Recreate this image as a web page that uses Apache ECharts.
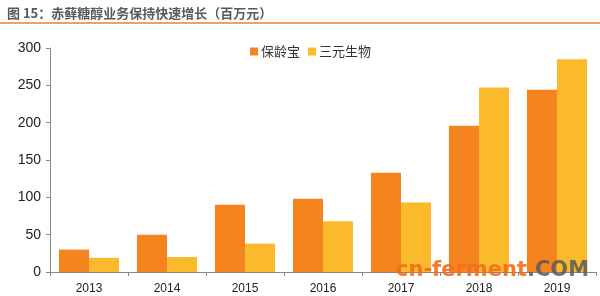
<!DOCTYPE html>
<html>
<head>
<meta charset="utf-8">
<script src="https://cdn.jsdelivr.net/npm/echarts@6/dist/echarts.min.js"></script>
<style>
html, body { margin: 0; padding: 0; background: #fff; }
#chart { width: 600px; height: 296px; }
</style>
</head>
<body>
<div id="chart"></div>
<script>
var years = ['2013', '2014', '2015', '2016', '2017', '2018', '2019'];
var baolingbao = [30, 50, 90, 98, 133, 196, 244];
var sanyuan = [19, 20, 38, 68, 93, 247, 285];
var yTicks = [0, 50, 100, 150, 200, 250, 300];

var chart = echarts.init(document.getElementById('chart'));
chart.setOption({
    animation: false,
    color: ['#F5841F', '#FBBA2C'],
    title: {
        text: '图 15：赤藓糖醇业务保持快速增长（百万元）',
        left: 2,
        top: 2,
        textStyle: {
            fontSize: 13,
            fontWeight: 'bold',
            color: '#5a5a5a',
            fontFamily: 'Noto Sans CJK SC'
        }
    },
    graphic: [
        {
            type: 'rect',
            shape: { x: 0, y: 22, width: 600, height: 2 },
            style: { fill: '#F0A060' }
        },
        {
            type: 'text',
            x: 396,
            y: 260,
            z: 100,
            style: {
                text: '{a|cn-ferment}{b|.COM}',
                rich: {
                    a: { fontSize: 21, fontWeight: 'bold', fill: 'rgba(240,110,30,0.9)', fontFamily: 'DejaVu Sans' },
                    b: { fontSize: 21, fontWeight: 'bold', fill: 'rgba(90,90,90,0.85)', fontFamily: 'DejaVu Sans' }
                }
            }
        }
    ],
    legend: {
        left: 245,
        top: 40,
        itemWidth: 8,
        itemHeight: 8,
        itemGap: 8,
        icon: 'rect',
        textStyle: { fontSize: 13, color: '#333', fontFamily: 'Noto Sans CJK SC', padding: [0, 0, 0, -2] },
        data: ['保龄宝', '三元生物']
    },
    grid: {
        left: 50,
        right: 4,
        top: 48,
        bottom: 24
    },
    xAxis: {
        type: 'category',
        data: years,
        axisLine: { lineStyle: { color: '#888' } },
        axisTick: { show: true, length: 4, lineStyle: { color: '#888' } },
        axisLabel: { fontSize: 12, color: '#222', margin: 11, fontFamily: 'Liberation Sans' }
    },
    yAxis: {
        type: 'value',
        min: yTicks[0],
        max: yTicks[yTicks.length - 1],
        interval: 50,
        axisLine: { show: true, lineStyle: { color: '#888' } },
        axisTick: { show: true, length: 4, lineStyle: { color: '#888' } },
        splitLine: { show: false },
        axisLabel: { fontSize: 14, color: '#222', margin: 9, fontFamily: 'Liberation Sans' }
    },
    series: [
        {
            name: '保龄宝',
            type: 'bar',
            data: baolingbao,
            barGap: '0%',
            barCategoryGap: '23%'
        },
        {
            name: '三元生物',
            type: 'bar',
            data: sanyuan,
            barGap: '0%',
            barCategoryGap: '23%'
        }
    ]
});
</script>
</body>
</html>
